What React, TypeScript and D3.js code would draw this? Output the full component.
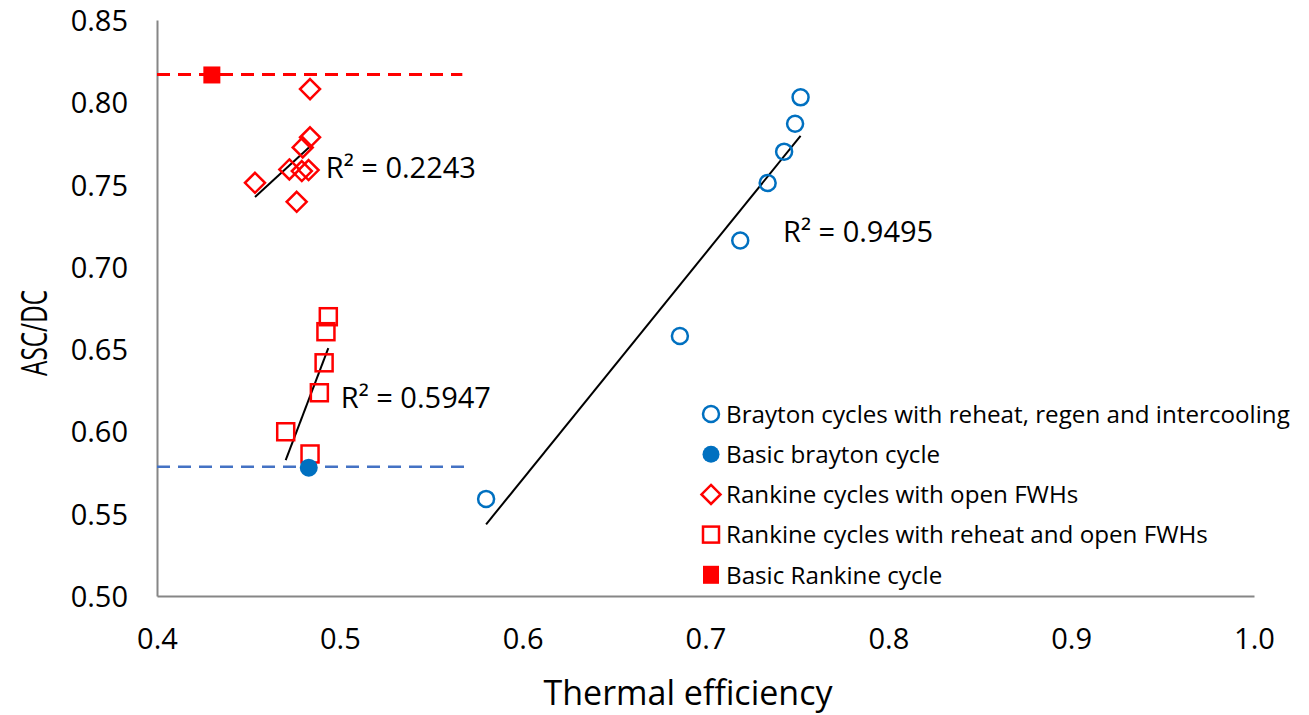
import React, { useEffect, useRef } from 'react';
import * as d3 from 'd3';

// Brayton cycles with reheat, regen and intercooling
const braytonX = [0.580, 0.686, 0.719, 0.734, 0.743, 0.749, 0.752];
const braytonY = [0.559, 0.658, 0.716, 0.751, 0.770, 0.787, 0.803];

// Basic brayton cycle
const basicBraytonX = [0.483];
const basicBraytonY = [0.578];

// Rankine cycles with open FWHs
const rankineFwhX = [0.4837, 0.4837, 0.4797, 0.4724, 0.4792, 0.4829, 0.4536, 0.4764];
const rankineFwhY = [0.808, 0.7787, 0.7726, 0.7592, 0.7582, 0.7588, 0.7511, 0.7395];

// Rankine cycles with reheat and open FWHs
const rankineReheatX = [0.4937, 0.4924, 0.4914, 0.4888, 0.4704, 0.4837];
const rankineReheatY = [0.6697, 0.6606, 0.6417, 0.6235, 0.5998, 0.5863];

// Basic Rankine cycle
const basicRankineX = [0.430];
const basicRankineY = [0.8166];

// reference dashed lines (x start, x end, y)
const rankineRefLine = [0.4, 0.567, 0.8169];
const braytonRefLine = [0.4, 0.572, 0.5786];

const r2Labels = [
  { text: 'R² = 0.2243', x: 0.4923, y: 0.7537 },
  { text: 'R² = 0.5947', x: 0.5005, y: 0.6143 },
  { text: 'R² = 0.9495', x: 0.7424, y: 0.7152 },
];

const xTicks = [0.4, 0.5, 0.6, 0.7, 0.8, 0.9, 1.0];
const yTicks = [0.5, 0.55, 0.6, 0.65, 0.7, 0.75, 0.8, 0.85];

const legendItems = [
  'Brayton cycles with reheat, regen and intercooling',
  'Basic brayton cycle',
  'Rankine cycles with open FWHs',
  'Rankine cycles with reheat and open FWHs',
  'Basic Rankine cycle',
];

const BLUE = '#0070C0';
const RED = '#FF0000';
const FONT = '"Open Sans", sans-serif';

const width = 1309;
const height = 715;
const margin = { top: 20, right: 55, bottom: 119, left: 157 };

const x = d3.scaleLinear().domain([0.4, 1.0]).range([margin.left, width - margin.right]);
const y = d3.scaleLinear().domain([0.5, 0.85]).range([height - margin.bottom, margin.top]);

const fit = (xs: number[], ys: number[]) => {
  const mx = d3.mean(xs)!;
  const my = d3.mean(ys)!;
  let sxy = 0, sxx = 0;
  xs.forEach((v, i) => { sxy += (v - mx) * (ys[i] - my); sxx += (v - mx) * (v - mx); });
  const slope = sxy / sxx;
  const b = my - slope * mx;
  const [x0, x1] = d3.extent(xs) as [number, number];
  return [[x0, slope * x0 + b], [x1, slope * x1 + b]];
};

const diamond = (cx: number, cy: number, r: number) =>
  `M${cx},${cy - r}L${cx + r},${cy}L${cx},${cy + r}L${cx - r},${cy}Z`;

const Legend = ({ left, top }: { left: number; top: number }) => (
  <g transform={`translate(${left},${top})`} fontFamily={FONT} fontSize={24.2} fill="#000">
    {legendItems.map((label, i) => {
      const cy = i * 40.2;
      let marker;
      if (i === 0) marker = <circle cx={0} cy={cy} r={8} fill="none" stroke={BLUE} strokeWidth={2.5} />;
      else if (i === 1) marker = <circle cx={0} cy={cy} r={8.5} fill={BLUE} />;
      else if (i === 2) marker = <path d={diamond(0, cy, 9.5)} fill="none" stroke={RED} strokeWidth={2.5} />;
      else if (i === 3) marker = <rect x={-8} y={cy - 8} width={16} height={16} fill="none" stroke={RED} strokeWidth={2.5} />;
      else marker = <rect x={-8} y={cy - 9} width={16} height={18} fill={RED} />;
      return (
        <g key={label}>
          {marker}
          <text x={15} y={cy} dy="0.36em">{label}</text>
        </g>
      );
    })}
  </g>
);

const App = () => {
  const xAxisRef = useRef<SVGGElement>(null);
  const yAxisRef = useRef<SVGGElement>(null);

  useEffect(() => {
    document.body.style.margin = '0';

    const xg = d3.select(xAxisRef.current!);
    xg.call(d3.axisBottom(x).tickValues(xTicks).tickFormat(d3.format('.1f')).tickSize(0).tickSizeOuter(0));
    xg.select('.domain').attr('stroke', '#868686').attr('stroke-width', 2);
    xg.selectAll('text')
      .attr('y', 53).attr('dy', 0)
      .attr('font-family', FONT).attr('font-size', 29).attr('fill', '#000');

    const yg = d3.select(yAxisRef.current!);
    yg.call(d3.axisLeft(y).tickValues(yTicks).tickFormat(d3.format('.2f')).tickSize(0).tickSizeOuter(0));
    yg.select('.domain').attr('stroke', '#868686').attr('stroke-width', 2);
    yg.selectAll('text')
      .attr('x', -29).attr('dy', '0.36em')
      .attr('font-family', FONT).attr('font-size', 29).attr('fill', '#000');
  }, []);

  const trends = [
    fit(rankineFwhX, rankineFwhY),
    fit(rankineReheatX, rankineReheatY),
    fit(braytonX, braytonY),
  ];
  const trendLine = d3.line<number[]>().x(d => x(d[0])).y(d => y(d[1]));

  return (
    <svg width={width} height={height} style={{ position: 'absolute', left: 0, top: 0, background: '#fff' }}>
      <rect width={width} height={height} fill="#fff" />
      <g ref={xAxisRef} transform={`translate(0,${height - margin.bottom})`} />
      <g ref={yAxisRef} transform={`translate(${margin.left},0)`} />

      {[rankineRefLine, braytonRefLine].map((l, i) => (
        <line key={i} x1={x(l[0])} x2={x(l[1])} y1={y(l[2])} y2={y(l[2])}
          stroke={i === 0 ? RED : '#4472C4'} strokeWidth={i === 0 ? 3 : 2.5} strokeDasharray="13,8" />
      ))}

      {trends.map((t, i) => (
        <path key={i} d={trendLine(t) ?? ''} stroke="#000" strokeWidth={2} fill="none" />
      ))}

      {braytonX.map((v, i) => (
        <circle key={i} cx={x(v)} cy={y(braytonY[i])} r={8} fill="none" stroke={BLUE} strokeWidth={2.5} />
      ))}
      {rankineFwhX.map((v, i) => (
        <path key={i} d={diamond(x(v), y(rankineFwhY[i]), 10)} fill="none" stroke={RED} strokeWidth={2.5} />
      ))}
      {rankineReheatX.map((v, i) => (
        <rect key={i} x={x(v) - 8.5} y={y(rankineReheatY[i]) - 8.5} width={17} height={17}
          fill="none" stroke={RED} strokeWidth={2.5} />
      ))}
      {basicBraytonX.map((v, i) => (
        <circle key={i} cx={x(v)} cy={y(basicBraytonY[i])} r={9} fill={BLUE} />
      ))}
      {basicRankineX.map((v, i) => (
        <rect key={i} x={x(v) - 8.5} y={y(basicRankineY[i]) - 8.5} width={17} height={17} fill={RED} />
      ))}

      {r2Labels.map(l => (
        <text key={l.text} x={x(l.x)} y={y(l.y)} fontFamily={FONT} fontSize={29} fill="#000">{l.text}</text>
      ))}

      <Legend left={711} top={414} />

      <text x={688} y={705} textAnchor="middle" fontFamily={FONT} fontSize={34} fill="#000">Thermal efficiency</text>
      <text transform="translate(47,333) rotate(-90)" textAnchor="middle" fontFamily={FONT} fontSize={36}
        textLength={86} lengthAdjust="spacingAndGlyphs" fill="#000">ASC/DC</text>
    </svg>
  );
};

export default App;
